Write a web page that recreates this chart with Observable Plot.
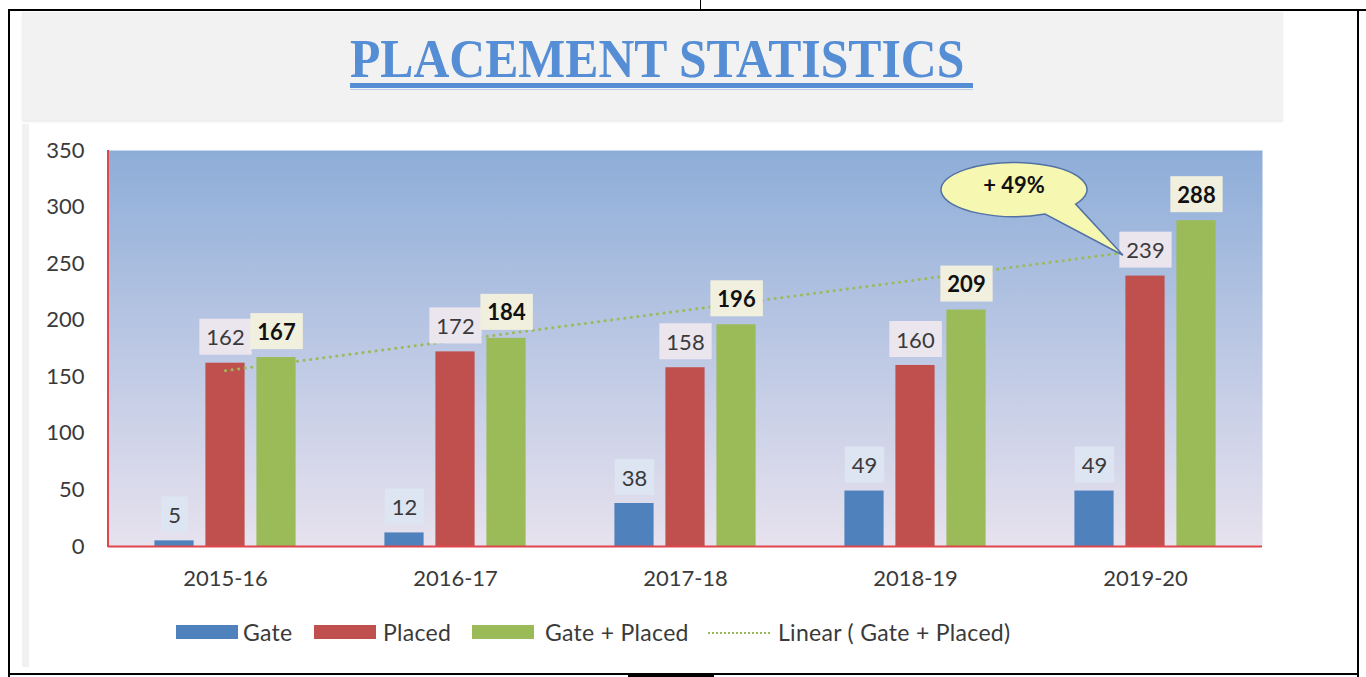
<!DOCTYPE html>
<html><head><meta charset="utf-8">
<script src="https://cdn.jsdelivr.net/npm/d3@7"></script>
<script src="https://cdn.jsdelivr.net/npm/@observablehq/plot@0.6"></script>
<style>
body{margin:0;width:1366px;height:677px;overflow:hidden;background:#fff;position:relative;font-family:Lato,sans-serif;}
.ln{position:absolute;background:#000;}
#titlebox{position:absolute;left:22px;top:12px;width:1261px;height:108px;background:#f2f2f2;box-shadow:0 2px 2px rgba(0,0,0,.08);}
#leftstrip{position:absolute;left:22px;top:124px;width:7px;height:543px;background:#f1f1f1;}
#title{position:absolute;left:350px;top:32px;font-family:"Liberation Serif",serif;font-weight:bold;font-size:54px;line-height:1;color:#558ed5;transform:scaleX(.92);transform-origin:0 0;white-space:nowrap;}
#ul1{position:absolute;left:350px;top:83px;width:623px;height:5px;background:#558ed5;}
#ul2{position:absolute;left:350px;top:89px;width:623px;height:1px;background:#b9cfee;}
#chart{position:absolute;left:22px;top:122px;}
.lg{position:absolute;top:619px;height:26px;line-height:26px;font-size:23px;letter-spacing:0.3px;color:#3a3a3a;white-space:nowrap;}
.sw{position:absolute;top:625px;width:62px;height:14px;}
</style></head>
<body>
<div class="ln" style="left:8px;top:9px;width:1358px;height:2px"></div>
<div class="ln" style="left:700px;top:0;width:1px;height:10px"></div>
<div class="ln" style="left:8px;top:9px;width:2px;height:668px"></div>
<div class="ln" style="left:1357px;top:9px;width:2px;height:668px"></div>
<div class="ln" style="left:8px;top:673px;width:1351px;height:2px"></div>
<div class="ln" style="left:628px;top:673px;width:86px;height:4px"></div>
<div id="titlebox"></div>
<div id="leftstrip"></div>
<div id="title">PLACEMENT STATISTICS</div>
<div id="ul1"></div><div id="ul2"></div>
<div id="chart"></div>
<div id="legend"></div>
<script>
// ---- data ----
const years = ["2015-16","2016-17","2017-18","2018-19","2019-20"];
const gate = [5,12,38,49,49];
const placed = [162,172,158,160,239];
const total = [167,184,196,209,288];
const yTicks = [0,50,100,150,200,250,300,350];
const trendYears = ["2015-16","2019-20"];
const trendValues = [155.4,262.2];
const calloutLabel = "+ 49%";
const calloutCenter = ["2018-19",315];
const calloutTip = ["2019-20",257];
const seriesNames = ["Gate","Placed","Gate + Placed","Linear ( Gate + Placed)"];
const seriesColors = ["#4f81bd","#c0504d","#9bbb59","#9bbb59"];

const rows = years.map((year,i)=>({year,gate:gate[i],placed:placed[i],total:total[i]}));
const trend = trendYears.map((year,i)=>({year,v:trendValues[i]}));

const W=1261,H=480,mL=86,mR=21,mT=28,mB=56;
const band=(W-mL-mR)/years.length;
const barW=40, step=51, inset=(band-barW)/2;

const plot = Plot.plot({
  width:W,height:H,marginLeft:mL,marginRight:mR,marginTop:mT,marginBottom:mB,
  style:{fontFamily:"Lato, sans-serif",fontSize:"22px",color:"#3a3a3a",background:"transparent",overflow:"visible"},
  x:{domain:years,padding:0,label:null},
  y:{domain:[0,350],label:null},
  marks:[
    Plot.frame({fill:"url(#bgGrad)",stroke:null}),
    Plot.axisY({ticks:yTicks,tickSize:0,tickPadding:24,fontSize:22,label:null}),
    Plot.axisX({tickSize:0,tickPadding:24,fontSize:22,label:null}),
    Plot.barY(rows,{x:"year",y:"gate",fill:seriesColors[0],dx:-step,insetLeft:inset,insetRight:inset}),
    Plot.barY(rows,{x:"year",y:"placed",fill:seriesColors[1],insetLeft:inset,insetRight:inset}),
    Plot.barY(rows,{x:"year",y:"total",fill:seriesColors[2],dx:step,insetLeft:inset,insetRight:inset}),
    Plot.ruleY([0],{stroke:"#e0474c",strokeWidth:2}),
    Plot.line(trend,{x:"year",y:"v",stroke:seriesColors[3],strokeWidth:3,strokeDasharray:"0.1 6.5",strokeLinecap:"round"}),
    Plot.text(rows,{x:"year",y:"gate",text:d=>String(d.gate),dx:-step,dy:-25,fill:"#3a3a3a",fontSize:22,className:"lbl-gate"}),
    Plot.text(rows,{x:"year",y:"placed",text:d=>String(d.placed),dy:-25,fill:"#3a3a3a",fontSize:22,className:"lbl-placed"}),
    Plot.text(rows,{x:"year",y:"total",text:d=>String(d.total),dx:step,dy:-25,fill:"#111",fontSize:22,fontWeight:"bold",className:"lbl-total"})
  ]
});
document.getElementById("chart").appendChild(plot);

const svg = d3.select(plot);
const defs = svg.insert("defs",":first-child");
const g = defs.append("linearGradient").attr("id","bgGrad").attr("x1",0).attr("y1",0).attr("x2",0).attr("y2",1);
g.append("stop").attr("offset","0%").attr("stop-color","#8dadd8");
g.append("stop").attr("offset","50%").attr("stop-color","#bcc8e4");
g.append("stop").attr("offset","100%").attr("stop-color","#e7e2ee");

const sx = plot.scale("x"), sy = plot.scale("y");
// left red axis line
svg.append("line").attr("x1",mL).attr("x2",mL).attr("y1",sy.apply(350)).attr("y2",sy.apply(0)+1)
  .attr("stroke","#e0474c").attr("stroke-width",2);

// label boxes (placed in the same coordinate system as each label)
function boxes(cls,fill){
  svg.selectAll("."+cls+" text").each(function(){
    const b=this.getBBox();
    const r=d3.select(this.parentNode).insert("rect",()=>this)
      .attr("x",b.x-7).attr("y",b.y+b.height/2-18).attr("width",b.width+14).attr("height",36)
      .attr("fill",fill);
    const t=this.getAttribute("transform");
    if(t) r.attr("transform",t);
  });
}
boxes("lbl-gate","#dce5f1");
boxes("lbl-placed","#ebe5ee");
boxes("lbl-total","#f1efdd");

// callout
const cx = sx.apply(calloutCenter[0])+sx.bandwidth/2+99, cy = sy.apply(calloutCenter[1]);
const tx = sx.apply(calloutTip[0])+sx.bandwidth/2-22, ty = sy.apply(calloutTip[1]);
const rx=73, ry=27;
const a1=Math.PI*0.18, a2=Math.PI*0.36;
const p1=[cx+rx*Math.cos(a1),cy+ry*Math.sin(a1)], p2=[cx+rx*Math.cos(a2),cy+ry*Math.sin(a2)];
const path=`M${p1[0]},${p1[1]} A${rx},${ry} 0 1 0 ${p2[0]},${p2[1]} L${tx},${ty} Z`;
const cg = svg.append("g");
cg.append("path").attr("d",path).attr("fill","#f6f7b0").attr("stroke","#5272a6").attr("stroke-width",1.5);
cg.append("text").attr("x",cx).attr("y",cy-2).attr("text-anchor","middle").attr("dominant-baseline","middle")
  .attr("font-size",22).attr("font-weight","bold").attr("fill","#111").text(calloutLabel);

// legend
const lg = document.getElementById("legend");
const swL=[176,314,472,708], txL=[243,383,545,778];
seriesNames.forEach((n,i)=>{
  const s=document.createElement("div");
  s.className="sw"; s.style.left=swL[i]+"px";
  if(i<3){s.style.background=seriesColors[i];}
  else{s.style.height="0";s.style.top="632px";s.style.borderTop="2px dotted "+seriesColors[i];}
  lg.appendChild(s);
  const t=document.createElement("div");
  t.className="lg"; t.style.left=txL[i]+"px"; t.textContent=n;
  lg.appendChild(t);
});
</script>
</body></html>
